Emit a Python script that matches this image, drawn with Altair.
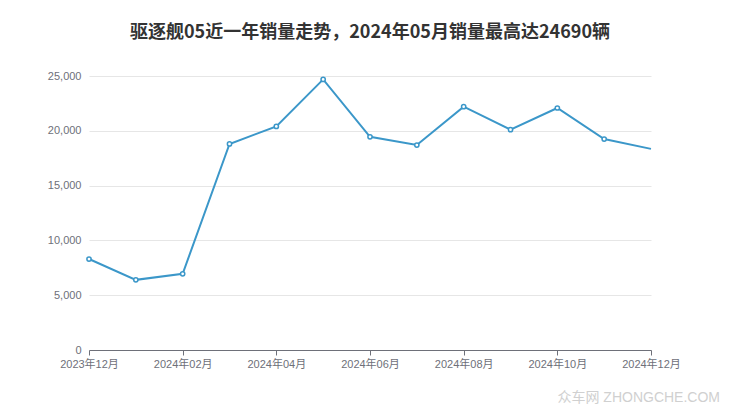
import altair as alt
import pandas as pd

months = ["2023-12", "2024-01", "2024-02", "2024-03", "2024-04", "2024-05", "2024-06",
          "2024-07", "2024-08", "2024-09", "2024-10", "2024-11", "2024-12"]
labels = ["2023年12月", "2024年01月", "2024年02月", "2024年03月", "2024年04月", "2024年05月",
          "2024年06月", "2024年07月", "2024年08月", "2024年09月", "2024年10月", "2024年11月",
          "2024年12月"]
sales = [8300, 6400, 6950, 18800, 20400, 24690, 19450, 18700, 22200, 20100, 22080, 19250, 18350]
tick_labels = ["2023年12月", "2024年02月", "2024年04月", "2024年06月", "2024年08月",
               "2024年10月", "2024年12月"]
title_text = "驱逐舰05近一年销量走势，2024年05月销量最高达24690辆"
watermark = "众车网  ZHONGCHE.COM"

df = pd.DataFrame({"month": labels, "sales": sales})
df_pts = df.iloc[:-1]

color = "#3b97c9"
font = "Liberation Sans, Noto Sans CJK SC"

x = alt.X("month:O", sort=labels,
          scale=alt.Scale(type="point", padding=0),
          axis=alt.Axis(values=tick_labels, labelAngle=0, title=None, domainColor="#6e7079",
                        tickColor="#6e7079", tickSize=5, labelColor="#6e7079", labelFontSize=11,
                        labelFont=font, labelPadding=3, grid=False, labelOverlap=False))
y = alt.Y("sales:Q", scale=alt.Scale(domain=[0, 25000], nice=False),
          axis=alt.Axis(values=[0, 5000, 10000, 15000, 20000, 25000], format=",.0f", title=None,
                        domain=False, ticks=False, labelColor="#6e7079", labelFontSize=11,
                        labelFont=font, labelPadding=8, gridColor="#e6e6e6"))

line = alt.Chart(df).mark_line(color=color, strokeWidth=2).encode(x=x, y=y)
pts = alt.Chart(df_pts).mark_point(shape="circle", filled=True, fill="white", stroke=color,
                                   strokeWidth=1.5, size=18, opacity=1).encode(x=x, y=y)
wm = alt.Chart(pd.DataFrame({"t": [watermark]})).mark_text(
    align="right", baseline="middle", fontSize=14, color="#d0d0d0", font=font
).encode(text="t:N", x=alt.value(631), y=alt.value(322))

chart = alt.layer(line, pts, wm).properties(
    width=562, height=274,
    title=alt.TitleParams(title_text, fontSize=18, fontWeight="bold", color="#333333",
                          font="Noto Sans CJK SC", anchor="middle", offset=28),
    padding={"left": 81, "top": 68, "right": 73, "bottom": 58},
    autosize=alt.AutoSizeParams(type="none"),
).configure_view(stroke=None)

chart.save("out.html", embed_options={"renderer": "svg", "actions": False})
